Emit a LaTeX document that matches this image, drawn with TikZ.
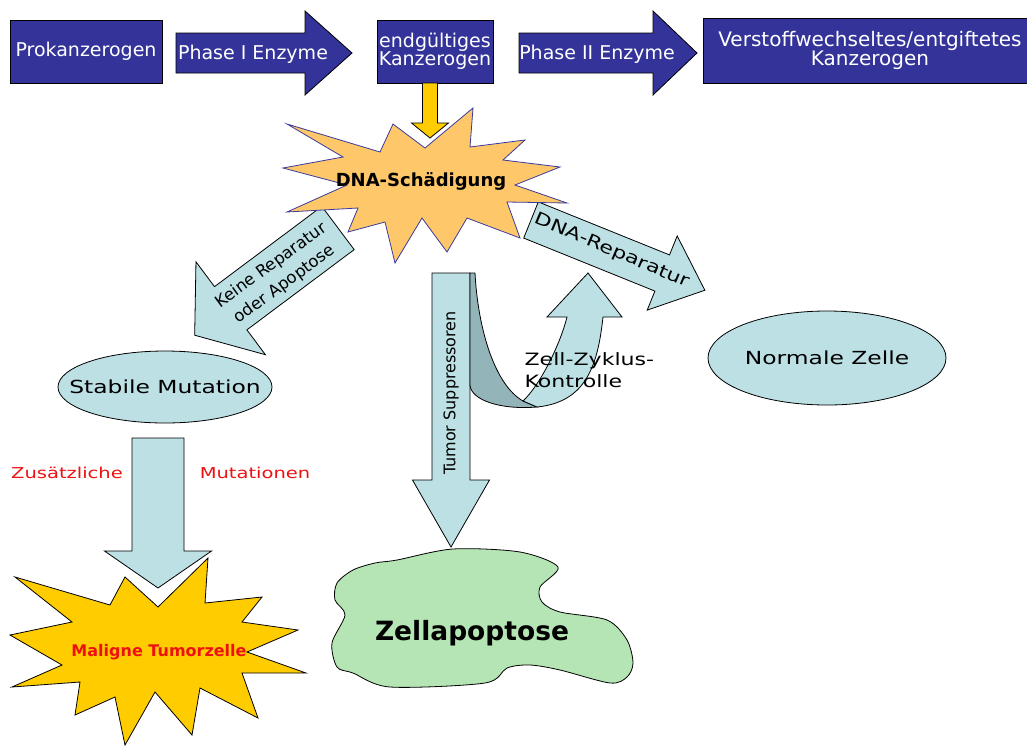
\documentclass[tikz,border=0pt]{standalone}
\usepackage{fontspec}
\setmainfont{DejaVu Sans}
\newfontfamily\wf{DejaVu Sans}[FakeStretch=1.3]
\usetikzlibrary{shapes.geometric}
\definecolor{dblue}{HTML}{333399}
\definecolor{lblue}{HTML}{BCE0E4}
\definecolor{dstrip}{HTML}{93B4B8}
\definecolor{orng}{HTML}{FDC76A}
\definecolor{ylw}{HTML}{FFCC00}
\definecolor{grn}{HTML}{B5E5B5}
\definecolor{rtxt}{HTML}{EE1111}
\definecolor{starline}{HTML}{3B3B9E}
% block arrow: #1 style, #2 tail centre, #3 angle, #4 length, #5 half shaft, #6 half head, #7 head length
\newcommand{\barrow}[7]{%
  \begin{scope}[shift={#2},rotate=#3]
    \draw[#1] (0,-#5) -- ({#4-#7},-#5) -- ({#4-#7},-#6) -- (#4,0) -- ({#4-#7},#6) -- ({#4-#7},#5) -- (0,#5) -- cycle;
  \end{scope}}
\begin{document}
\begin{tikzpicture}[x=1pt,y=-1pt,
  topbox/.style={draw=black, fill=dblue, line width=0.8pt, text=white, align=center,
    font=\fontsize{19}{18}\selectfont, inner sep=0pt},
  toparrow/.style={draw=black, fill=dblue, line width=0.8pt},
  toptext/.style={text=white, font=\fontsize{19}{18}\selectfont},
  bluearrow/.style={draw=black, fill=lblue, line width=0.8pt},
  cellell/.style={ellipse, draw=black, fill=lblue, line width=0.8pt, inner xsep=-30pt, inner ysep=0pt},
  widetext/.style={font=\wf\fontsize{18}{20}\selectfont},
  redtext/.style={text=rtxt, font=\wf\fontsize{15}{18}\selectfont},
]
\useasboundingbox (0,0) rectangle (1027,745);
\clip (0,0) rectangle (1027,745);
\fill[white] (0,0) rectangle (1027,745);

% top row
\node[topbox, minimum width=152pt, minimum height=63pt] (prok) at (86,51.5) {Prokanzerogen};
\barrow{toparrow}{(176,53)}{0}{176}{20}{42}{47}
\node[toptext] (ph1) at (253,54) {Phase I Enzyme};
\node[topbox, minimum width=116pt, minimum height=63pt] (endk) at (435,51.5) {endgültiges\\Kanzerogen};
\barrow{toparrow}{(519,53)}{0}{178}{20}{42}{44}
\node[toptext] (ph2) at (597,54) {Phase II Enzyme};
\node[topbox, minimum width=334pt, minimum height=65pt, font=\fontsize{20}{18}\selectfont] (verst) at (870,50.5) {Verstoffwechseltes/entgiftetes\\Kanzerogen};

% arrows behind the DNA star
\barrow{bluearrow}{(531,220)}{-22}{187.5}{19.5}{40}{46}
\node[font=\wf\fontsize{17}{20}\selectfont, rotate=-23] (rep) at (612,251) {DNA-Reparatur};
\barrow{bluearrow}{(338,228)}{-143.2}{179}{27}{58}{45}
\node[font=\fontsize{16.5}{23}\selectfont, align=center, rotate=36] (keine) at (278,275) {Keine Reparatur\\oder Apoptose};

% DNA star
\draw[fill=orng, draw=starline, line width=0.8pt]
  (287,124) -- (380,152) -- (393,124) -- (425,148) -- (473,108) -- (470,147) -- (525,140)
  -- (503,160) -- (560,167) -- (515,185) -- (567,203) -- (507,202) -- (520,238) -- (467,218)
  -- (447,252) -- (422,218) -- (395,263) -- (385,222) -- (348,232) -- (358,208) -- (287,212)
  -- (347,185) -- (283,168) -- (343,157) -- cycle;
\node[font=\bfseries\fontsize{18}{20}\selectfont] (dna) at (421,181) {DNA-Schädigung};

% yellow arrow
\barrow{draw=black, fill=ylw, line width=0.8pt}{(430,83)}{-90}{55}{7.5}{18.5}{15}

% tumor suppressor arrow
\barrow{bluearrow}{(451,273)}{-90}{274}{19}{38.5}{67}
\node[font=\fontsize{16}{18}\selectfont, rotate=90] (tum) at (451,393) {Tumor Suppressoren};

% curved arrow (cell cycle control)
\draw[fill=dstrip, draw=black, line width=0.8pt]
  (470,273) -- (475,273) .. controls (478,330) and (495,385) .. (523,401)
  -- (537,407) .. controls (500,410) and (471,400) .. (470,385) -- cycle;
\draw[fill=lblue, draw=black, line width=0.8pt]
  (523,401) .. controls (540,385) and (560,345) .. (567,317) -- (547,317) -- (588,273)
  -- (622,317) -- (603,317) .. controls (598,362) and (588,402) .. (537,407) -- cycle;
\node[font=\wf\fontsize{17}{22}\selectfont, align=left, anchor=west] (zyk) at (521,370) {Zell-Zyklus-\\Kontrolle};

% ellipses
\node[cellell, minimum width=214pt, minimum height=72pt, widetext] (stab) at (165,387) {Stabile Mutation};
\node[cellell, minimum width=238pt, minimum height=94pt, widetext] (norm) at (827,358) {Normale Zelle};

% additional mutations arrow
\barrow{bluearrow}{(158,438)}{-90}{150}{26}{53.5}{37}
\node[redtext] (zus) at (67,473) {Zusätzliche};
\node[redtext] (mut) at (255,473) {Mutationen};

% malignant star
\draw[fill=ylw, draw=black, line width=0.8pt]
  (15,577) -- (110,605) -- (125,577) -- (158,607) -- (208,558) -- (205,603) -- (262,597)
  -- (242,622) -- (298,630) -- (247,652) -- (306,673) -- (242,673) -- (258,718) -- (200,688)
  -- (192,735) -- (155,692) -- (125,745) -- (115,697) -- (75,715) -- (80,682) -- (12,687)
  -- (62,665) -- (10,635) -- (72,622) -- cycle;
\node[text=rtxt, font=\bfseries\fontsize{16}{18}\selectfont] (mal) at (159,652) {Maligne Tumorzelle};

% apoptosis blob
\draw[fill=grn, draw=black, line width=0.8pt] plot[smooth cycle, tension=0.5] coordinates {
  (375,563) (397,560) (453,549) (520,552) (558,567) (540,587) (542,602) (560,612)
  (607,620) (627,640) (633,663) (627,677) (610,683) (560,670) (530,665) (507,668)
  (485,683) (390,687) (353,673) (337,667) (332,643) (345,615) (335,600) (337,583) (353,570)};
\node[font=\bfseries\fontsize{26.5}{28}\selectfont] (apo) at (472,633) {Zellapoptose};
\end{tikzpicture}
\end{document}
